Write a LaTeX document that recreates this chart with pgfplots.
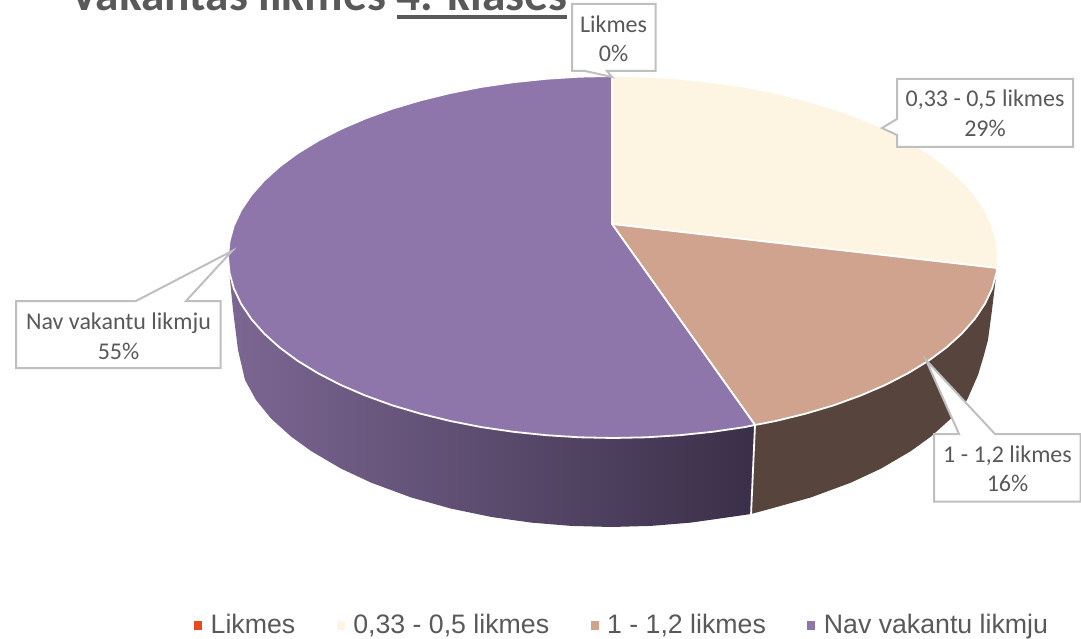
\documentclass[border=0pt]{standalone}
\usepackage{fontspec}
\usepackage{pgfplots}
\pgfplotsset{compat=1.18}
\setmainfont{Carlito}
\newfontfamily\legfont{Liberation Sans}

\definecolor{cLik}{HTML}{E8491F}
\definecolor{cCream}{HTML}{FDF5E1}
\definecolor{cTan}{HTML}{CFA38D}
\definecolor{cPurple}{HTML}{8E75AA}
\definecolor{cBrown}{HTML}{57443C}
\definecolor{cWallL}{HTML}{7C6793}
\definecolor{cWallR}{HTML}{3A2F48}
\definecolor{cGrey}{HTML}{BFBFBF}
\definecolor{cText}{HTML}{595959}

\pgfplotsset{
  slice/.style={draw=white,line width=1.8pt,line join=round},
  callout/.style={forget plot,draw=cGrey,fill=white,line width=2pt,line join=miter},
}
\tikzset{lab/.style={font=\fontsize{24}{29.5}\selectfont,text=cText,align=center,inner sep=0pt}}

\begin{document}
\begin{tikzpicture}
\begin{axis}[
    scale only axis,
    width=1081pt, height=639pt,
    xmin=0, xmax=1081, ymin=0, ymax=639,
    y dir=reverse,
    hide axis,
    no markers,
    legend columns=4,
    legend image code/.code={\fill[#1,draw=none] (0pt,-4.5pt) rectangle (8pt,4.5pt);},
    legend style={at={(axis cs:194,625)},anchor=west,draw=none,fill=none,inner sep=0pt,
      font=\fontsize{26.7}{30}\selectfont\legfont,text=cText,
      /tikz/every odd column/.append style={column sep=6.5pt},
      /tikz/every even column/.append style={column sep=39.5pt}},
]
% side walls
\addplot[forget plot,draw=none,left color=cBrown,right color=cBrown] coordinates {
 (997,268) (996.5,272.8) (992.2,288.4) (984.9,303.8) (974.8,318.9) (961.9,333.5) (946.4,347.5)
 (928.4,360.8) (907.9,373.3) (885.2,385) (860.5,395.6) (833.8,405.3) (805.5,413.7) (775.7,421) (755,425)
 (751,514) (771,508.6) (811,497.4) (851,482.6) (881,468.6) (911,451) (931,436.5) (951,418.5) (967,400)
 (978,375) (984,355) (988,340) (992,310) (995,285)
} -- cycle;
\addplot[forget plot,draw=none,left color=cWallL,right color=cWallR] coordinates {
 (228.5,262) (230,280) (233,310) (238,350) (245,380) (256,400) (271,418.5) (291,436.5) (311,451) (341,468.6)
 (371,482.6) (411,497.4) (451,508.6) (491,516.9) (531,522.6) (571,525.9) (611,527) (651,525.9) (691,522.6)
 (731,516.9) (751,514) (755,425) (744.7,427.1) (712.6,431.8) (679.8,435.2) (646.6,437.3) (613,438)
 (579.4,437.3) (546.2,435.2) (513.4,431.8) (481.3,427.1) (450.3,421) (420.5,413.7) (392.2,405.3) (365.5,395.6)
 (340.8,385) (318.1,373.3) (297.6,360.8) (279.6,347.5) (264.1,333.5) (251.2,318.9) (241.1,303.8) (233.8,288.4)
} -- cycle;
\addplot[forget plot,white,line width=1.8pt] coordinates {(755,425) (751,515)};

% top face, slices in legend order
\addplot[fill=cLik,draw=none] coordinates {(612,224) (612,77)} -- cycle;
\addlegendentry{Likmes}
\addplot[slice,fill=cCream] coordinates {
 (612,224) (612,76) (646.6,76.7) (679.8,78.8) (712.6,82.2) (744.7,86.9) (775.7,93) (805.5,100.3) (833.8,108.7)
 (860.5,118.4) (885.2,129) (907.9,140.7) (928.4,153.2) (946.4,166.5) (961.9,180.5) (974.8,195.1) (984.9,210.2)
 (992.2,225.6) (996.5,241.2) (998,257) (997,268)
} -- cycle;
\addlegendentry{0,33 - 0,5 likmes}
\addplot[slice,fill=cTan] coordinates {
 (612,224) (997,268) (996.5,272.8) (992.2,288.4) (984.9,303.8) (974.8,318.9) (961.9,333.5) (946.4,347.5)
 (928.4,360.8) (907.9,373.3) (885.2,385) (860.5,395.6) (833.8,405.3) (805.5,413.7) (775.7,421) (755,425)
} -- cycle;
\addlegendentry{1 - 1,2 likmes}
\addplot[slice,fill=cPurple] coordinates {
 (612,224) (755,425) (744.7,427.1) (712.6,431.8) (679.8,435.2) (646.6,437.3) (613,438) (579.4,437.3) (546.2,435.2)
 (513.4,431.8) (481.3,427.1) (450.3,421) (420.5,413.7) (392.2,405.3) (365.5,395.6) (340.8,385) (318.1,373.3)
 (297.6,360.8) (279.6,347.5) (264.1,333.5) (251.2,318.9) (241.1,303.8) (233.8,288.4) (229.5,272.8) (228,257)
 (229.5,241.2) (233.8,225.6) (241.1,210.2) (251.2,195.1) (264.1,180.5) (279.6,166.5) (297.6,153.2) (318.1,140.7)
 (340.8,129) (365.5,118.4) (392.2,108.7) (420.5,100.3) (450.3,93) (481.3,86.9) (513.4,82.2) (546.2,78.8) (579.4,76.7) (612,76)
} -- cycle;
\addlegendentry{Nav vakantu likmju}

% callouts
\addplot[callout] coordinates {(572,4) (655.5,4) (655.5,71) (607,71) (612,77) (585,71) (572,71)} -- cycle;
\addplot[callout] coordinates {(897,79) (1073,79) (1073,147) (897,147) (897,135) (882,128) (897,119)} -- cycle;
\addplot[callout] coordinates {(934,434) (959,434) (926,360) (995,434) (1080.5,434) (1080.5,501.5) (934,501.5)} -- cycle;
\addplot[callout] coordinates {(16,301) (136,301) (232,251) (186,301) (220.5,301) (220.5,368) (16,368)} -- cycle;

\node[lab] at (axis cs:613.5,39) {Likmes\\0\%};
\node[lab] at (axis cs:985,113.5) {0,33 - 0,5 likmes\\29\%};
\node[lab] at (axis cs:1007.5,469) {1 - 1,2 likmes\\16\%};
\node[lab] at (axis cs:118.5,336.5) {Nav vakantu likmju\\55\%};

% title runs off the top edge in the reference
\node[anchor=base west,inner sep=0pt,text=cText,font=\fontsize{47.4}{56}\selectfont\bfseries] at (axis cs:70,11)
  {Vakantās likmes 4. klasēs};
\draw[cText,line width=4pt] (axis cs:397,17) -- (axis cs:567,17);
\end{axis}
\pgfresetboundingbox
\useasboundingbox (0,0) rectangle (1081pt,639pt);
\end{tikzpicture}
\end{document}
